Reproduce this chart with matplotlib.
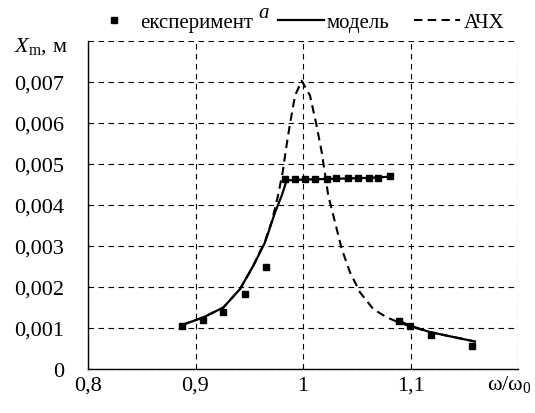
import numpy as np
import matplotlib
matplotlib.use('Agg')
import matplotlib.pyplot as plt

plt.rcParams['font.family'] = ['Liberation Serif', 'DejaVu Serif']
plt.rcParams['mathtext.fontset'] = 'custom'
plt.rcParams['mathtext.rm'] = 'Liberation Serif'
plt.rcParams['mathtext.it'] = 'Liberation Serif:italic'

# експеримент
exp_x = [0.8877, 0.9073, 0.9259, 0.946, 0.9653,
         0.983, 0.993, 1.002, 1.011, 1.022, 1.031, 1.042, 1.051, 1.061, 1.070, 1.081,
         1.0893, 1.0995, 1.119, 1.1575]
exp_y = [0.00104, 0.00120, 0.00138, 0.00183, 0.00250,
         0.00463, 0.00464, 0.00464, 0.00464, 0.00464, 0.00465, 0.00465, 0.00466, 0.00466, 0.00467, 0.00470,
         0.00116, 0.00104, 0.00083, 0.00057]

# модель (дві гілки, розрив між ними)
mod_x = [0.8872, 0.9073, 0.9259, 0.9414, 0.9538, 0.9647, 0.974, 0.9802, 0.9848,
         1.00, 1.03, 1.06, 1.081,
         np.nan,
         1.0887, 1.0995, 1.118, 1.140, 1.160]
mod_y = [0.00107, 0.00126, 0.00150, 0.00195, 0.00252, 0.00309, 0.00382, 0.00423, 0.00460,
         0.00462, 0.00464, 0.00466, 0.00469,
         np.nan,
         0.00118, 0.00106, 0.00090, 0.00078, 0.00067]

# АЧХ
ach_x = [0.8872, 0.9073, 0.9259, 0.9414, 0.9538, 0.9647, 0.971, 0.9765, 0.9811, 0.9842, 0.9879, 0.9926,
         0.9988, 1.0065, 1.0127, 1.0174, 1.0235, 1.0298, 1.036, 1.0437, 1.053, 1.0654, 1.0779, 1.0887,
         1.0995, 1.118, 1.140, 1.160]
ach_y = [0.00107, 0.00126, 0.00150, 0.00195, 0.00252, 0.00312, 0.00360, 0.00420, 0.00480, 0.00537, 0.00598, 0.00667,
         0.00703, 0.00667, 0.00593, 0.00529, 0.00423, 0.00358, 0.00293, 0.00236, 0.00187, 0.00146, 0.00126, 0.00114,
         0.00104, 0.00090, 0.00078, 0.00067]

xticks = [0.8, 0.9, 1.0, 1.1, 1.2]
xlabels = ['0,8', '0,9', '1', '1,1', '']
yticks = [0, 0.001, 0.002, 0.003, 0.004, 0.005, 0.006, 0.007, 0.008]
ylabels = ['0', '0,001', '0,002', '0,003', '0,004', '0,005', '0,006', '0,007', '']

fig = plt.figure(figsize=(5.35, 4.14), dpi=100)
ax = fig.add_axes([88/535, 44/414, 430/535, 328/414])

ax.plot(ach_x, ach_y, color='black', lw=1.5, linestyle=(0, (4, 2.6)), label='АЧХ', zorder=3)
ax.plot(mod_x, mod_y, color='black', lw=1.6, label='модель', zorder=4)
ax.plot(exp_x, exp_y, linestyle='none', marker='s', ms=5, color='black', label='експеримент', zorder=5)

ax.set_xlim(0.8, 1.2)
ax.set_ylim(0, 0.008)
ax.set_xticks(xticks)
ax.set_xticklabels(xlabels)
ax.set_yticks(yticks)
ax.set_yticklabels(ylabels)
ax.tick_params(length=0, labelsize=16)
ax.tick_params(axis='y', pad=17)
ax.tick_params(axis='x', pad=5)
ax.grid(True, color='black', lw=0.8, linestyle=(0, (5, 4)))
for s in ['top', 'right']:
    ax.spines[s].set_visible(False)
for s in ['left', 'bottom']:
    ax.spines[s].set_linewidth(1.0)

fig.text(68/535, 1 - 47/414, r'$X_{\mathrm{m}}$, м', ha='right', va='center', fontsize=16)
fig.text(509/535, 1 - 385/414, r'ω/ω$_0$', ha='center', va='center', fontsize=16)
fig.text(264/535, 1 - 18/414, 'a', ha='center', va='baseline', fontsize=15, style='italic')

h, l = ax.get_legend_handles_labels()
order = [2, 1, 0]
fig.legend([h[i] for i in order], [l[i] for i in order], loc='center', ncol=3,
           bbox_to_anchor=(0.556, 1 - 23/414), frameon=False, fontsize=15,
           handlelength=2.2, handletextpad=0.15, columnspacing=1.2, borderpad=0)

fig.savefig('out.png', dpi=100)
